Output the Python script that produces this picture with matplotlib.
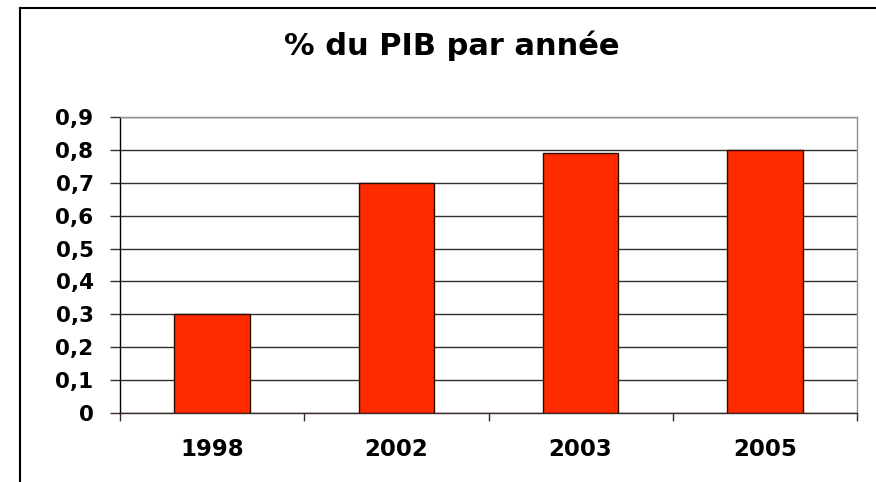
import matplotlib
matplotlib.use('Agg')
import matplotlib.pyplot as plt
from matplotlib.patches import Rectangle

years = ["1998", "2002", "2003", "2005"]
values = [0.3, 0.7, 0.79, 0.8]
yticks = [0, 0.1, 0.2, 0.3, 0.4, 0.5, 0.6, 0.7, 0.8, 0.9]
ylabels = ["0", "0,1", "0,2", "0,3", "0,4", "0,5", "0,6", "0,7", "0,8", "0,9"]

plt.rcParams['font.family'] = ['DejaVu Sans']
plt.rcParams['font.weight'] = 'bold'

fig = plt.figure(figsize=(8.76, 4.82), dpi=100)
ax = fig.add_axes([120 / 876, 1 - 413 / 482, (857 - 120) / 876, (413 - 117) / 482])

# cadre du graphique (coin haut-gauche visible seulement)
fig.patches.append(Rectangle((20 / 876, -0.1), 1.2, 1 - 8 / 482 + 0.1,
                             transform=fig.transFigure, fill=False,
                             edgecolor='black', linewidth=1.5))

x = list(range(len(years)))
ax.bar(x, values, width=0.41, color='#FF2A00', edgecolor='#2a0a00', linewidth=1, zorder=3)

ax.set_xlim(-0.5, len(years) - 0.5)
ax.set_ylim(0, 0.9)
ax.set_yticks(yticks)
ax.set_yticklabels(ylabels, fontsize=15.5, fontweight='bold')
ax.yaxis.grid(True, color='#303030', linewidth=1)
ax.set_axisbelow(True)

ax.set_xticks([i - 0.5 for i in range(len(years) + 1)])
ax.set_xticklabels([])
ax.set_xticks(x, minor=True)
ax.set_xticklabels(years, minor=True, fontsize=16.5, fontweight='bold')
ax.tick_params(axis='x', which='major', length=6, width=1, direction='out', color='#3a2a2a')
ax.tick_params(axis='x', which='minor', length=0, pad=18)
ax.tick_params(axis='y', length=7, width=1, direction='out', pad=12, color='#3a2a2a')

ax.spines['top'].set_color('#909090')
ax.spines['right'].set_color('#909090')
ax.spines['left'].set_color('black')
ax.spines['bottom'].set_color('#3a2a2a')
for s in ax.spines.values():
    s.set_linewidth(1)

fig.text(452 / 876, 1 - 46 / 482, "% du PIB par année", ha='center', va='center',
         fontsize=22, fontweight='bold')

fig.savefig("out.png", dpi=100)
plt.close(fig)
